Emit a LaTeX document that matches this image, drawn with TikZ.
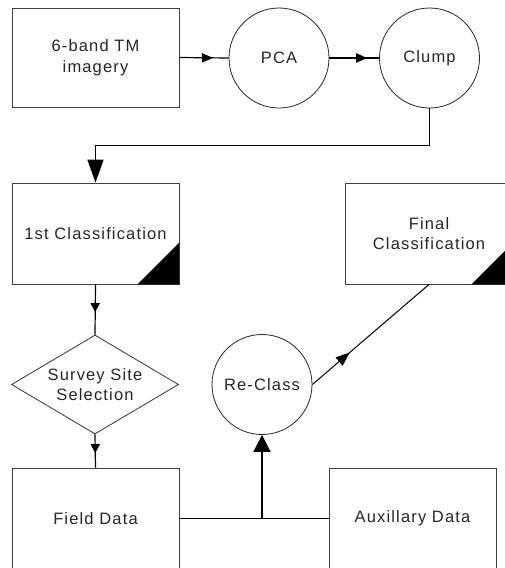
\documentclass[tikz,border=0pt]{standalone}
\usepackage{fontspec}
\setmainfont{Liberation Sans}[LetterSpace=7]
\usetikzlibrary{arrows.meta,shapes.geometric}
\tikzset{
  txt/.style={text=black!85, font=\fontsize{16.5}{20.5}\selectfont},
  boxnode/.style={draw=black!75, line width=0.9pt, rectangle, minimum width=167pt, minimum height=100pt, inner sep=0pt, align=center, txt},
  circnode/.style={draw=black!85, line width=0.8pt, circle, minimum size=100pt, inner sep=0pt, align=center, txt},
  decnode/.style={draw=black!80, line width=0.8pt, diamond, aspect=1.69, minimum width=167pt, minimum height=99pt, inner sep=0pt, align=center, txt},
  conn/.style={line width=1.2pt, black},
  headfill/.style={fill=black},
  bigtip/.style={-{Triangle[length=#1, width=17pt]}},
}
\begin{document}
\begin{tikzpicture}[x=1pt,y=-1pt]
\useasboundingbox (0,0) rectangle (505,568);
\fill[white] (0,0) rectangle (505,568);

\node[boxnode, minimum height=99pt] (tm) at (95.5,57.5) {6-band TM\\imagery};
\node[circnode] (pca) at (279,58) {PCA};
\node[circnode] (clump) at (429.5,58) {Clump};
\node[boxnode, minimum height=101pt] (c1) at (95.5,233.5) {1st Classification};
\node[boxnode, minimum width=168pt, minimum height=101pt] (final) at (429,233.5) {Final\\Classification};
\node[decnode] (survey) at (95,384.5) {Survey Site\\Selection};
\node[circnode] (reclass) at (262,384.5) {Re-Class};
\node[boxnode, minimum height=101pt] (field) at (95.5,518.5) {Field Data};
\node[boxnode, minimum height=101pt] (aux) at (412.5,518.5) {Auxillary Data};

% corner triangles
\fill ([xshift=-42pt]c1.south east) -- (c1.south east) -- ([yshift=42pt]c1.south east) -- cycle;
\fill ([xshift=-42pt]final.south east) -- (final.south east) -- ([yshift=42pt]final.south east) -- cycle;

% mid-arrow points
\path (tm.east) -- (pca.west) coordinate[pos=0.68] (m1);
\path (pca.east) -- (clump.west) coordinate[pos=0.76] (m2);
\path (c1.south) -- (survey.north) coordinate[pos=0.55] (m3);
\path (survey.south) -- (field.north) coordinate[pos=0.56] (m4);
\path (reclass.east) -- (final.south) coordinate[pos=0.32] (m5);

% connectors
\draw[conn] (tm.east) -- (pca.west);
\draw[conn] (pca.east) -- (clump.west);
\coordinate (bend) at (429.5,145.5);
\draw[conn, line width=1.5pt, -{Triangle[length=23pt, width=16pt]}] (clump.south) -- (bend) -| (c1.north);
\draw[conn] (c1.south) -- (survey.north);
\draw[conn] (survey.south) -- (field.north);
\draw[conn] (field.east) -- (aux.west);
\coordinate (junc) at (reclass.south |- field.east);
\draw[conn, line width=1.8pt, bigtip=17pt] (junc) -- (reclass.south);
\draw[conn, line width=1pt] (reclass.east) -- (final.south);

% mid arrowheads
\fill[headfill, shift={(m1)}] (0pt,0pt) -- (-11pt,4.8pt) -- (-11pt,-4.8pt) -- cycle;
\fill[headfill, shift={(m2)}] (0pt,0pt) -- (-11pt,4.8pt) -- (-11pt,-4.8pt) -- cycle;
\fill[headfill, shift={(m3)}] (0pt,0pt) -- (-4.8pt,9pt) -- (4.8pt,9pt) -- cycle;
\fill[headfill, shift={(m4)}] (0pt,0pt) -- (-4.8pt,9pt) -- (4.8pt,9pt) -- cycle;
\fill[headfill, shift={(m5)}, rotate=40.6] (0pt,0pt) -- (-14pt,5.5pt) -- (-14pt,-5.5pt) -- cycle;
\end{tikzpicture}
\end{document}
